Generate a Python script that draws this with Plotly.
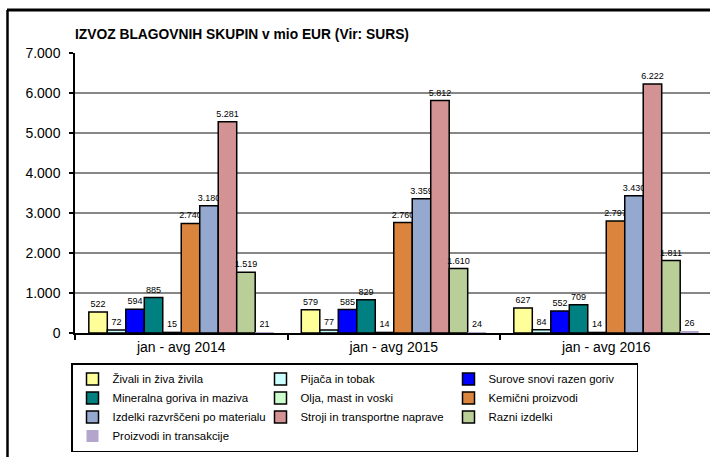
import plotly.graph_objects as go

# =========================================
#  Podatki: izvoz blagovnih skupin (mio EUR)
# =========================================
OBDOBJA = ["jan - avg 2014", "jan - avg 2015", "jan - avg 2016"]

SKUPINE = [
    "Živali in živa živila",
    "Pijača in tobak",
    "Surove snovi razen goriv",
    "Mineralna goriva in maziva",
    "Olja, mast in voski",
    "Kemični proizvodi",
    "Izdelki razvrščeni po materialu",
    "Stroji in transportne naprave",
    "Razni izdelki",
    "Proizvodi in transakcije",
]

ZIVALI     = [522, 579, 627]
PIJACA     = [72, 77, 84]
SUROVE     = [594, 585, 552]
MINERALNA  = [885, 829, 709]
OLJA       = [15, 14, 14]
KEMICNI    = [2740, 2760, 2797]
IZDELKI    = [3180, 3359, 3430]
STROJI     = [5281, 5812, 6222]
RAZNI      = [1519, 1610, 1811]
PROIZVODI  = [21, 24, 26]

VREDNOSTI = [ZIVALI, PIJACA, SUROVE, MINERALNA, OLJA,
             KEMICNI, IZDELKI, STROJI, RAZNI, PROIZVODI]

BARVE = ["#FFFF99", "#CCFFFF", "#0000FF", "#008080", "#CCFFCC",
         "#DB843D", "#94A8D0", "#D39394", "#BACF97", "#B3A5CB"]
ROBOVI = ["#000000"] * 9 + ["#B3A5CB"]
ROB_DEBELINA = [1.5] * 9 + [0]

FONT = "Liberation Sans, Arial, sans-serif"

# geometrija (px)
W, H = 710, 457
L, T, B = 75, 53, 124
PH = H - T - B          # visina risalne ploskve
PW = W - L              # sirina risalne ploskve
CAT_W = 212.5           # sirina ene kategorije


def px_x(p):
    return (p - L) / PW


def px_y(p):
    return (H - B - p) / PH


fig = go.Figure()
for ime, vals, barva, rob, rd in zip(SKUPINE, VREDNOSTI, BARVE, ROBOVI, ROB_DEBELINA):
    fig.add_trace(go.Bar(
        x=OBDOBJA, y=vals, name=ime,
        marker=dict(color=barva, line=dict(color=rob, width=rd)),
        texttemplate="%{y:,}", textposition="outside",
        textfont=dict(size=9, color="#000000", family=FONT),
        constraintext="none", cliponaxis=False,
    ))

fig.update_layout(
    width=W, height=H,
    paper_bgcolor="white", plot_bgcolor="white",
    font=dict(family=FONT, color="#000000", size=14),
    separators=",.",
    margin=dict(l=L, r=0, t=T, b=B, pad=0),
    bargap=0.13, bargroupgap=0,
    title=dict(
        text="<b>IZVOZ BLAGOVNIH SKUPIN v mio EUR (Vir: SURS)</b>",
        font=dict(size=13.8, family=FONT, color="#000000"),
        x=L / W, xanchor="left", xref="container",
        y=1 - 34 / H, yanchor="middle", yref="container",
    ),
    showlegend=True,
    legend=dict(
        orientation="h",
        x=px_x(71), xanchor="left",
        y=px_y(363), yanchor="top",
        bgcolor="white", bordercolor="#000000", borderwidth=1.5,
        font=dict(size=11.4, family=FONT),
        entrywidth=143, entrywidthmode="pixels",
        traceorder="normal",
        tracegroupgap=0,
    ),
)

fig.update_xaxes(
    type="category",
    range=[-0.5, -0.5 + PW / CAT_W],
    showline=True, linecolor="#000000", linewidth=1.5,
    ticks="outside", ticklen=5, tickcolor="#000000", tickwidth=1.5,
    tickson="boundaries",
    tickfont=dict(size=14),
    showgrid=False, zeroline=False,
)
fig.update_yaxes(
    range=[0, 7000], dtick=1000, tickformat=",",
    showline=True, linecolor="#000000", linewidth=1.5,
    ticks="outside", ticklen=4, tickcolor="#000000", tickwidth=1.5,
    ticklabelstandoff=6,
    tickfont=dict(size=14),
    showgrid=True, gridcolor="#878787", gridwidth=1.5,
    zeroline=False,
)

# okvir grafa (zgornji in levi rob)
fig.add_shape(type="line", xref="paper", yref="paper",
              x0=px_x(7), x1=px_x(720), y0=px_y(10), y1=px_y(10),
              line=dict(color="#000000", width=3))
fig.add_shape(type="line", xref="paper", yref="paper",
              x0=px_x(7.5), x1=px_x(7.5), y0=px_y(10), y1=px_y(470),
              line=dict(color="#000000", width=2.5))

fig.write_html("out.html", config={"displayModeBar": False},
               post_script="document.body.style.margin='0';")
